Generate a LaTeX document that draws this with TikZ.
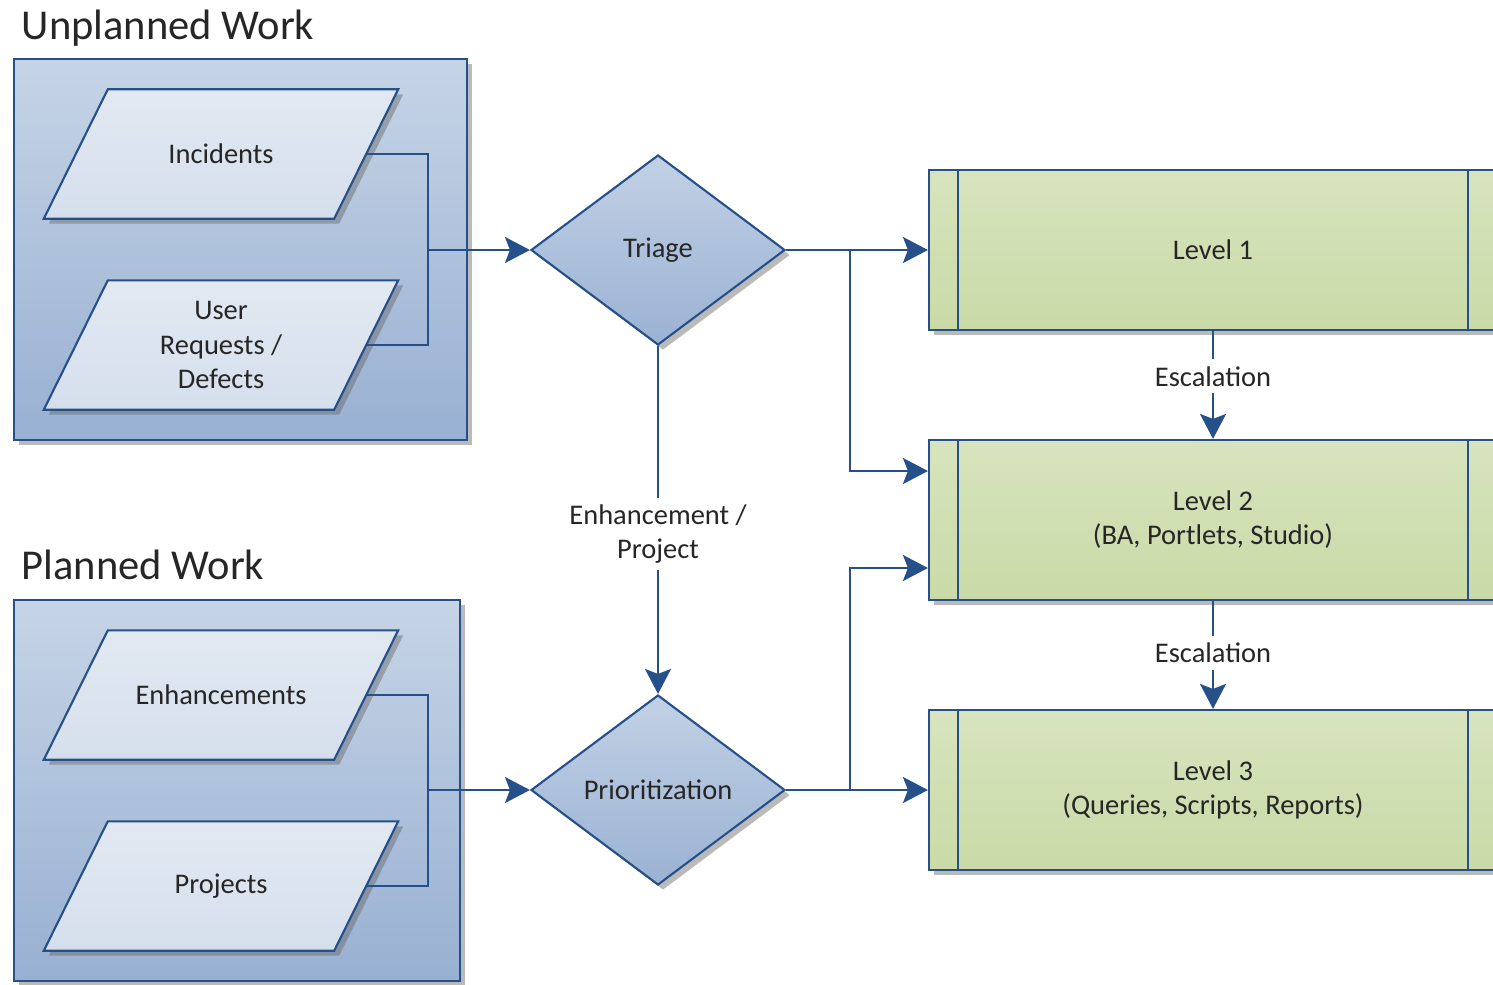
\documentclass[tikz,border=0pt]{standalone}
\usepackage{fontspec}
\setmainfont{Carlito}
\usetikzlibrary{arrows.meta,shapes.geometric,shadows}
\definecolor{flowline}{RGB}{38,80,138}
\definecolor{inktext}{RGB}{38,38,38}
\definecolor{groupTop}{RGB}{198,212,230}
\definecolor{groupBottom}{RGB}{152,176,210}
\definecolor{sourceTop}{RGB}{226,233,242}
\definecolor{sourceBottom}{RGB}{213,223,236}
\definecolor{decideTop}{RGB}{194,209,229}
\definecolor{decideBottom}{RGB}{154,178,211}
\definecolor{levelTop}{RGB}{216,228,190}
\definecolor{levelBottom}{RGB}{201,218,167}
\pgfdeclarelayer{backdrop}
\pgfsetlayers{backdrop,main}

\begin{document}
\begin{tikzpicture}[
  font=\fontsize{8.1}{9.7}\selectfont, text=inktext,
  every node/.style={align=center},
  boxshadow/.style={drop shadow={shadow xshift=0.5mm, shadow yshift=-0.5mm,
    opacity=0.45, fill=black!60}},
  group/.style={draw=flowline, line width=0.6pt,
    top color=groupTop, bottom color=groupBottom, boxshadow},
  heading/.style={font=\fontsize{12.1}{14}\selectfont, inner sep=0pt,
    anchor=base west},
  source/.style={rectangle, minimum width=2.89cm, minimum height=1.28cm,
    inner sep=0pt},
  slab/.style={draw=flowline, line width=0.6pt, top color=sourceTop,
    bottom color=sourceBottom, boxshadow},
  decision/.style={diamond, aspect=1.33, minimum width=2.54cm,
    minimum height=1.90cm, inner sep=1pt, draw=flowline, line width=0.6pt,
    top color=decideTop, bottom color=decideBottom, boxshadow},
  level/.style={rectangle, minimum width=5.68cm, minimum height=1.60cm,
    draw=flowline, line width=0.6pt, top color=levelTop,
    bottom color=levelBottom, boxshadow,
    path picture={
      \draw[link] ([xshift=2.9mm]path picture bounding box.north west)
        -- ([xshift=2.9mm]path picture bounding box.south west);
      \draw[link] ([xshift=-2.9mm]path picture bounding box.north east)
        -- ([xshift=-2.9mm]path picture bounding box.south east);}},
  link/.style={draw=flowline, line width=0.6pt},
  flow/.style={link, -{Stealth[length=2.5mm, width=2.6mm, inset=0.5mm]}},
  tag/.style={fill=white, inner sep=2pt}]
\useasboundingbox (0,0) rectangle (14.93,-9.84);

% work groups
\node[heading] (unplannedtitle) at (0.21,-0.39) {Unplanned Work};
\node[heading] (plannedtitle) at (0.21,-5.79) {Planned Work};
\begin{pgfonlayer}{backdrop}
\draw[group] (0.14,-0.59) rectangle (4.67,-4.40);
\draw[group] (0.14,-6.00) rectangle (4.60,-9.81);
\end{pgfonlayer}

\node[source] (incidents) at (2.21,-1.54) {Incidents};
\node[source] (requests) at (2.21,-3.45) {User\\Requests /\\Defects};
\node[source] (enhancements) at (2.21,-6.95) {Enhancements};
\node[source] (projects) at (2.21,-8.86) {Projects};

% slanted input shapes behind the labels
\begin{pgfonlayer}{backdrop}
\foreach \src in {incidents,requests,enhancements,projects}
  \draw[slab] ([xshift=3.2mm]\src.north west) -- ([xshift=3.2mm]\src.north east)
    -- ([xshift=-3.2mm]\src.south east) -- ([xshift=-3.2mm]\src.south west)
    -- cycle;
\end{pgfonlayer}

% decisions
\node[decision] (triage) at (6.58,-2.50) {Triage};
\node[decision] (prioritization) at (6.58,-7.90) {Prioritization};

% support levels
\node[level] (levelone) at (12.13,-2.50) {Level 1};
\node[level] (leveltwo) at (12.13,-5.20) {Level 2\\(BA, Portlets, Studio)};
\node[level] (levelthree) at (12.13,-7.90)
  {Level 3\\(Queries, Scripts, Reports)};

% joins and splits
\coordinate (unplannedjoin) at (4.28,-2.50);
\coordinate (plannedjoin) at (4.28,-7.90);
\coordinate (triagesplit) at (8.50,-2.50);
\coordinate (prioritysplit) at (8.50,-7.90);

\draw[link] (incidents.east) -| (unplannedjoin) |- (requests.east);
\draw[flow] (unplannedjoin) -- (triage.west);
\draw[link] (enhancements.east) -| (plannedjoin) |- (projects.east);
\draw[flow] (plannedjoin) -- (prioritization.west);

\draw[flow] (triage.east) -- (levelone.west);
\draw[flow] (triagesplit) |- ([yshift=4.9mm]leveltwo.west);
\draw[flow] (prioritization.east) -- (levelthree.west);
\draw[flow] (prioritysplit) |- ([yshift=-4.8mm]leveltwo.west);

\draw[flow] (triage.south) --
  node[tag, pos=0.54] {Enhancement /\\Project} (prioritization.north);
\draw[flow] (levelone.south) --
  node[tag, pos=0.42] {Escalation} (leveltwo.north);
\draw[flow] (leveltwo.south) --
  node[tag, pos=0.48] {Escalation} (levelthree.north);
\end{tikzpicture}
\end{document}
